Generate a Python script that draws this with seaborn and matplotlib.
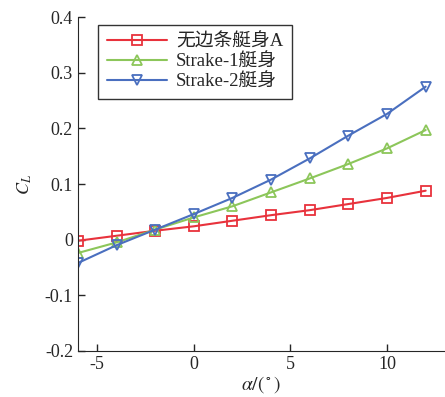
import numpy as np
import pandas as pd
import matplotlib
matplotlib.use("Agg")
import matplotlib.pyplot as plt
import seaborn as sns

# data
alpha = [-6, -4, -2, 0, 2, 4, 6, 8, 10, 12]
cl_plain = [-0.002, 0.007, 0.016, 0.024, 0.034, 0.044, 0.053, 0.064, 0.075, 0.088]
cl_strake1 = [-0.024, -0.005, 0.018, 0.040, 0.060, 0.085, 0.110, 0.136, 0.164, 0.197]
cl_strake2 = [-0.042, -0.010, 0.018, 0.046, 0.075, 0.108, 0.146, 0.187, 0.226, 0.275]
labels = ["无边条艇身A", "Strake-1艇身", "Strake-2艇身"]
colors = ["#e8323c", "#8cc65a", "#4a6fbf"]
markers = ["s", "^", "v"]

df = pd.DataFrame({"alpha": alpha * 3,
                   "CL": cl_plain + cl_strake1 + cl_strake2,
                   "body": np.repeat(labels, len(alpha))})

sns.set_style("ticks")
plt.rcParams['font.family'] = ['Liberation Serif', 'Noto Sans CJK SC']
plt.rcParams['mathtext.fontset'] = 'stix'

fig = plt.figure(figsize=(4.45, 3.97), dpi=100)
ax = fig.add_axes([0.175, 0.116, 0.825, 0.841])

for lab, c, m in zip(labels, colors, markers):
    sns.lineplot(data=df[df.body == lab], x="alpha", y="CL", ax=ax, label=lab,
                 color=c, marker=m, markersize=7, markerfacecolor="none",
                 markeredgecolor=c, markeredgewidth=1.3, linewidth=1.5)

ax.set_xlim(-6, 13)
ax.set_ylim(-0.2, 0.4)
ax.set_xticks([-5, 0, 5, 10])
yt = [-0.2, -0.1, 0, 0.1, 0.2, 0.3, 0.4]
ax.set_yticks(yt)
ax.set_yticklabels(["-0.2", "-0.1", "0", "0.1", "0.2", "0.3", "0.4"])
ax.set_xticklabels(["-5", "0", "5", "10"])
ax.tick_params(direction="in", labelsize=13, length=5, width=1)
sns.despine(ax=ax)
ax.set_xlabel(r"$\alpha/(^\circ)$", fontsize=14, labelpad=1)
ax.set_ylabel(r"$C_L$", fontsize=13, labelpad=8)

leg = ax.legend(loc="upper left", bbox_to_anchor=(0.055, 0.976), fontsize=13.5,
                frameon=True, fancybox=False, edgecolor="black",
                handlelength=3.2, borderpad=0.45, labelspacing=0.15,
                handletextpad=0.5, borderaxespad=0)
leg.get_frame().set_linewidth(1.0)

fig.savefig("out.png", dpi=100)
